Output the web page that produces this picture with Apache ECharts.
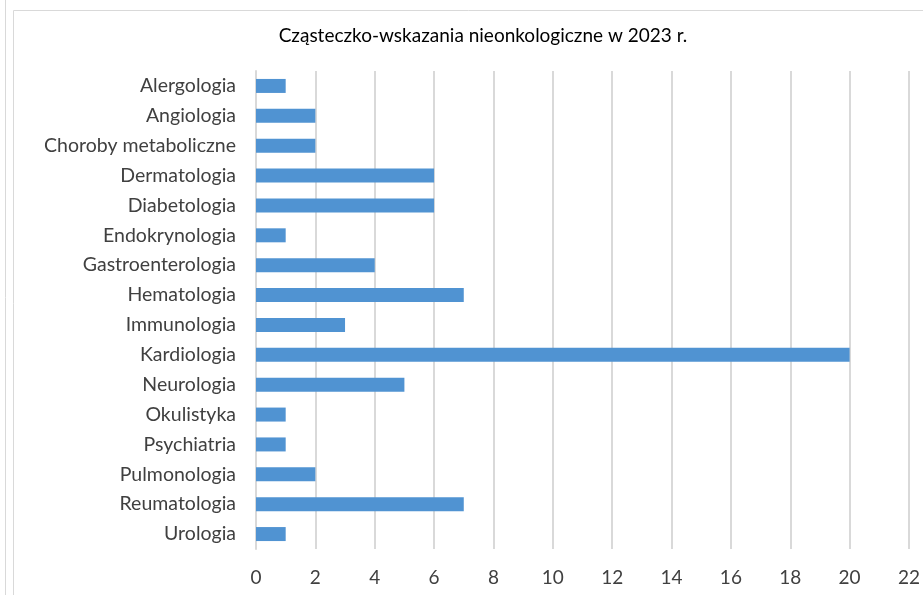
<!DOCTYPE html>
<html>
<head>
<meta charset="utf-8">
<script src="https://cdn.jsdelivr.net/npm/echarts@6/dist/echarts.min.js"></script>
<style>
  html, body { margin: 0; padding: 0; background: #fff; }
  #chart { width: 923px; height: 595px; }
</style>
</head>
<body>
<div id="chart"></div>
<script>
// dane
const categories = [
  "Alergologia", "Angiologia", "Choroby metaboliczne", "Dermatologia",
  "Diabetologia", "Endokrynologia", "Gastroenterologia", "Hematologia",
  "Immunologia", "Kardiologia", "Neurologia", "Okulistyka",
  "Psychiatria", "Pulmonologia", "Reumatologia", "Urologia"
];
const values = [1, 2, 2, 6, 6, 1, 4, 7, 3, 20, 5, 1, 1, 2, 7, 1];
const titleText = "Cząsteczko-wskazania nieonkologiczne w 2023 r.";

const chart = echarts.init(document.getElementById("chart"));
const font = "Lato, 'Open Sans', sans-serif";

const option = {
  animation: false,
  textStyle: { fontFamily: font },
  title: {
    text: titleText,
    left: 478,
    top: 21,
    textAlign: "center",
    textStyle: { fontFamily: font, fontSize: 19, fontWeight: "normal", color: "#000" }
  },
  // ramka wykresu
  graphic: [
    {
      type: "rect",
      shape: { x: 13.5, y: 10.5, width: 930, height: 600 },
      style: { fill: null, stroke: "#d9d9d9", lineWidth: 1 }
    },
    {
      type: "line",
      shape: { x1: 5.5, y1: 0, x2: 5.5, y2: 595 },
      style: { stroke: "#d9d9d9", lineWidth: 1 }
    }
  ],
  grid: { left: 256, right: 13, top: 71, bottom: 46 },
  xAxis: {
    type: "value",
    min: 0,
    max: 22,
    interval: 2,
    axisLine: { show: false },
    axisTick: { show: false },
    axisLabel: { fontSize: 19, color: "#404040", margin: 19, fontFamily: font },
    splitLine: { lineStyle: { color: "#d9d9d9", width: 2 } }
  },
  yAxis: {
    type: "category",
    data: categories,
    inverse: true,
    axisLine: { lineStyle: { color: "#d9d9d9", width: 2 } },
    axisTick: { show: false },
    axisLabel: { fontSize: 19.5, color: "#404040", margin: 20, fontFamily: font }
  },
  series: [
    {
      type: "bar",
      data: values,
      barWidth: 14,
      itemStyle: { color: "#5093d2" }
    }
  ]
};
chart.setOption(option);
</script>
</body>
</html>
